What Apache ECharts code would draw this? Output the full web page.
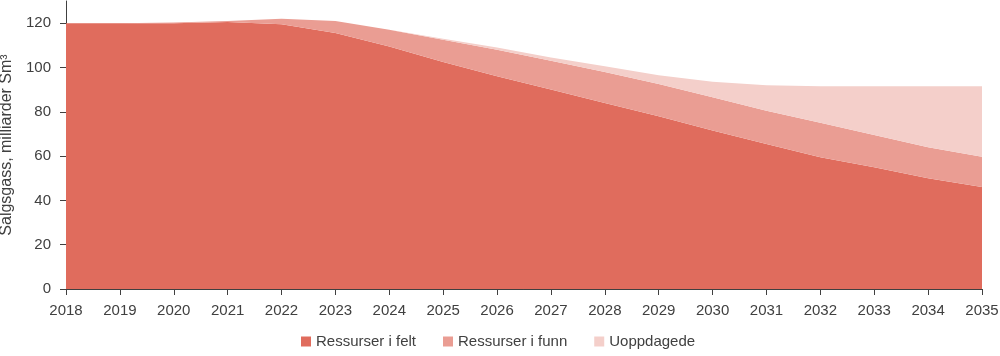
<!DOCTYPE html>
<html>
<head>
<meta charset="utf-8">
<script src="https://cdn.jsdelivr.net/npm/echarts@6/dist/echarts.min.js"></script>
<style>html,body{margin:0;padding:0;background:#fff}#c{width:1000px;height:356px}</style>
</head>
<body>
<div id="c"></div>
<script>
const years = ['2018','2019','2020','2021','2022','2023','2024','2025','2026','2027','2028','2029','2030','2031','2032','2033','2034','2035'];
const yTicks = [0, 20, 40, 60, 80, 100, 120];
const ressurserFelt = [120, 120, 120, 120.5, 119.5, 115.5, 109.5, 102.5, 96, 90, 84, 78, 71.5, 65.5, 59.5, 55, 50, 46];
const ressurserFunn = [0, 0, 0.3, 0.5, 2.5, 5.5, 7.5, 10, 12, 13, 14, 14.5, 15, 15, 15.5, 14.5, 14, 13.7];
const uoppdagede = [0, 0, 0, 0, 0, 0, 0, 0.5, 1, 1.5, 2.5, 4, 7, 11.5, 16.5, 22, 27.5, 31.8];

const font = 'Liberation Sans, Arial, sans-serif';
const txt = '#404040';
const chart = echarts.init(document.getElementById('c'), null, {renderer: 'canvas'});
function area(name, data, color) {
  return {
    name, type: 'line', stack: 'total', data,
    symbol: 'none', showSymbol: false,
    lineStyle: {width: 0},
    areaStyle: {color: color, opacity: 1},
    itemStyle: {color: color},
    emphasis: {disabled: true}
  };
}
chart.setOption({
  animation: false,
  textStyle: {fontFamily: font},
  grid: {left: 66, right: 18, top: 1, bottom: 67, containLabel: false, outerBoundsMode: 'none'},
  legend: {
    bottom: 2, left: 296,
    itemWidth: 10, itemHeight: 10, itemGap: 27,
    icon: 'rect',
    textStyle: {fontFamily: font, fontSize: 15, color: txt},
    data: ['Ressurser i felt', 'Ressurser i funn', 'Uoppdagede']
  },
  xAxis: {
    type: 'category', data: years, boundaryGap: false,
    axisLine: {lineStyle: {color: '#404040', width: 1}},
    axisTick: {show: true, alignWithLabel: true, length: 6, lineStyle: {color: '#404040'}},
    axisLabel: {fontFamily: font, fontSize: 15, color: txt, margin: 14, interval: 0},
    splitLine: {show: false}
  },
  yAxis: {
    type: 'value', min: 0, max: 130, interval: 20,
    name: 'Salgsgass, milliarder Sm³',
    nameLocation: 'middle', nameGap: 41,
    nameTextStyle: {fontFamily: font, fontSize: 16, color: txt},
    axisLine: {show: true, lineStyle: {color: '#404040', width: 1}},
    axisTick: {show: true, length: 6, lineStyle: {color: '#404040'}, customValues: yTicks},
    axisLabel: {fontFamily: font, fontSize: 15, color: txt, margin: 15, customValues: yTicks},
    splitLine: {show: false}
  },
  series: [
    area('Ressurser i felt', ressurserFelt, '#E06C5D'),
    area('Ressurser i funn', ressurserFunn, '#EA9D93'),
    area('Uoppdagede', uoppdagede, '#F4CFCA')
  ]
});
</script>
</body>
</html>
